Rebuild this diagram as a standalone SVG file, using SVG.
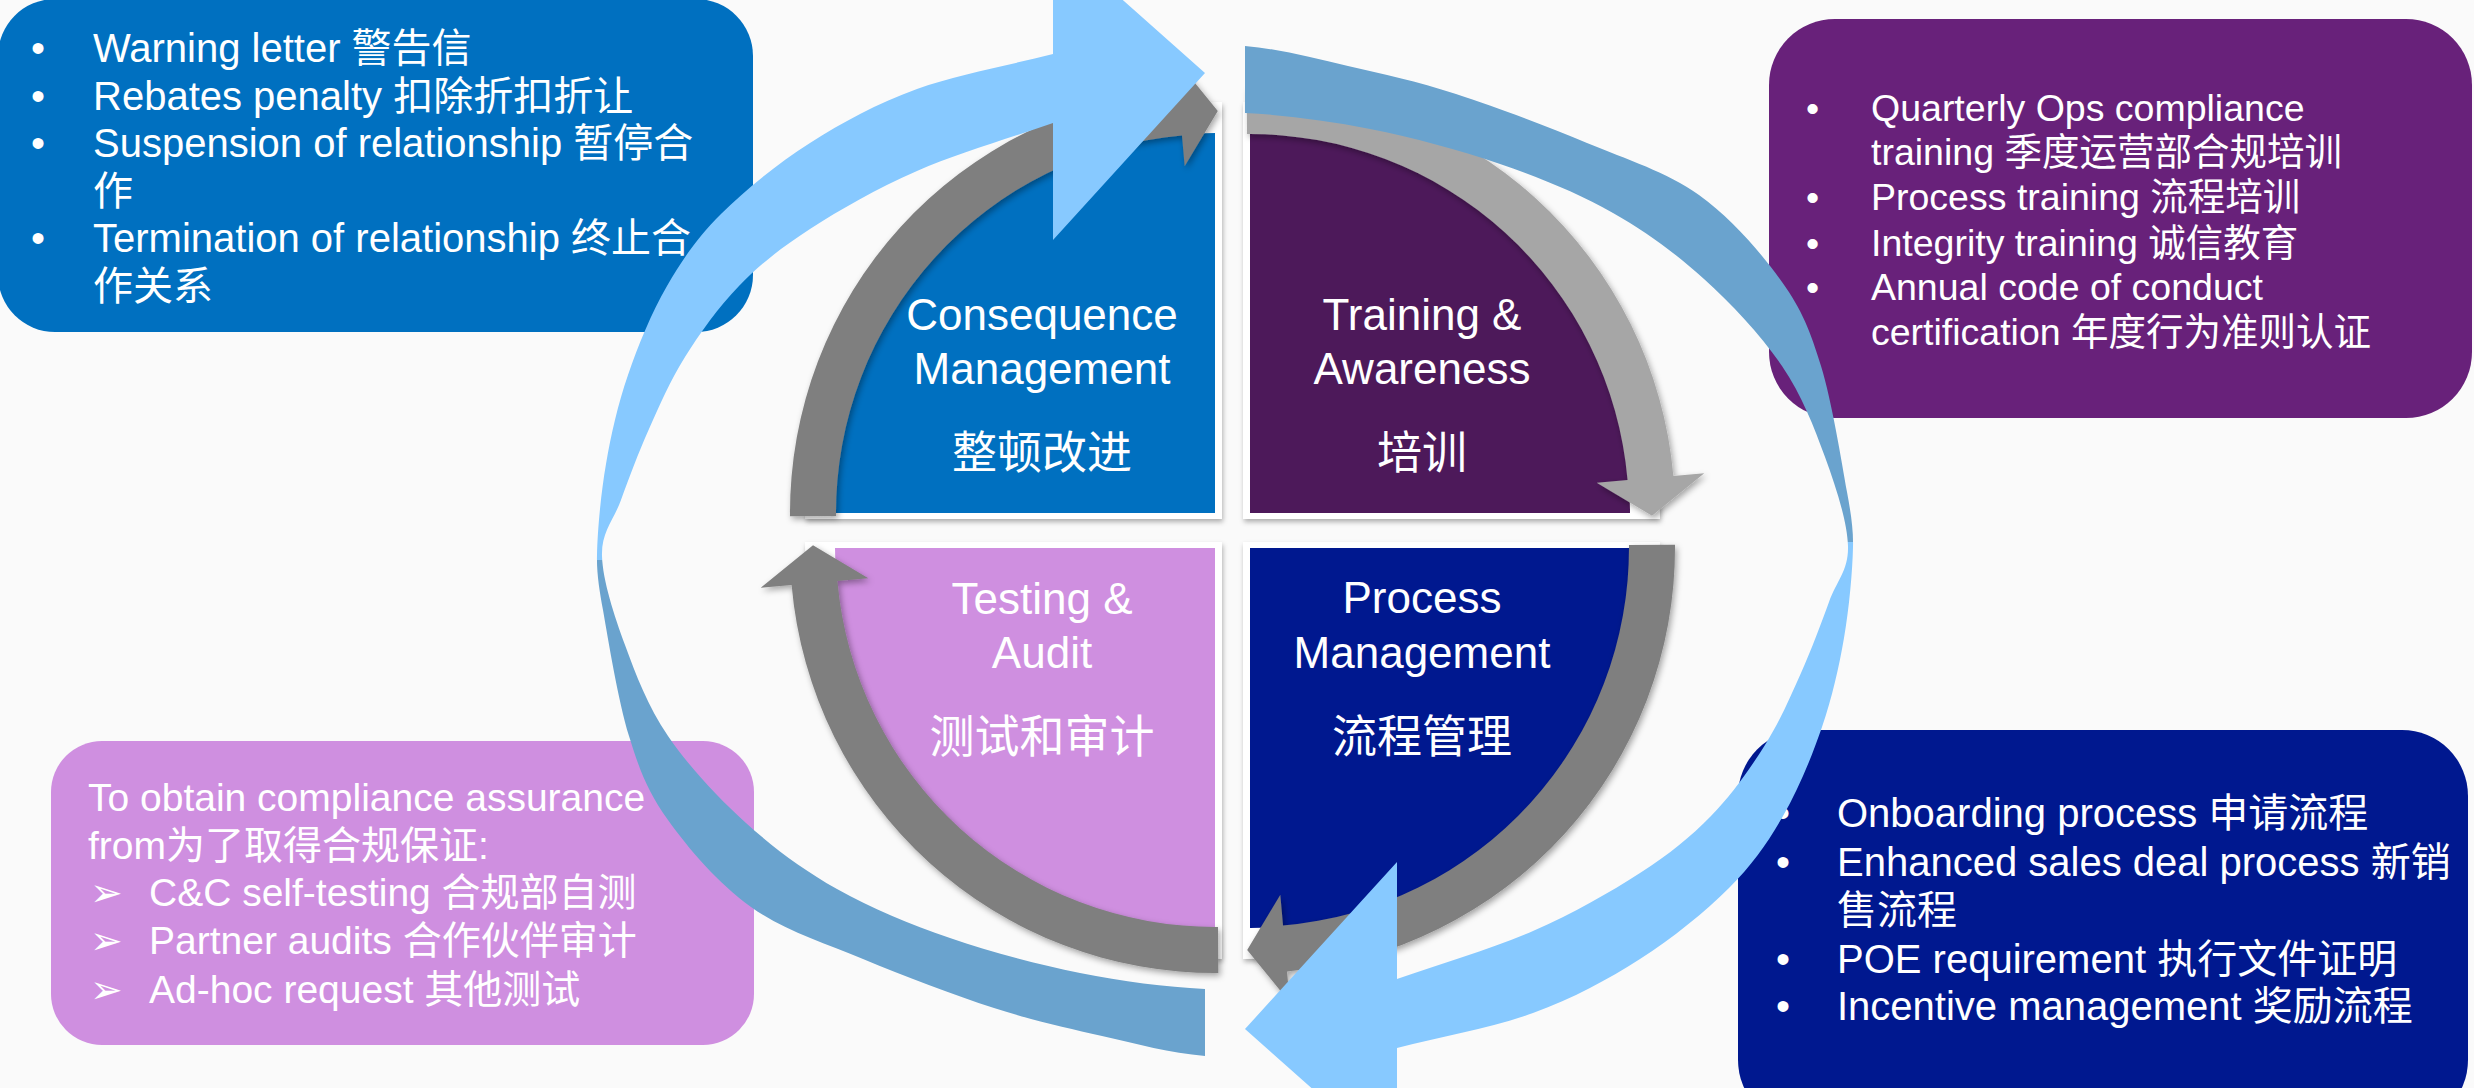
<svg xmlns="http://www.w3.org/2000/svg" width="2474" height="1088" viewBox="0 0 2474 1088">
  <style>
    text { font-family: 'Liberation Sans', 'Noto Sans CJK SC', 'DejaVu Sans', sans-serif; fill: #FFFFFF; }
    .qt { font-size: 44px; text-anchor: middle; }
    .qc { font-size: 45px; text-anchor: middle; }
    .b40 { font-size: 40px; }
    .b37 { font-size: 37.5px; }
    .b39 { font-size: 39px; }
    .frame { fill: #FFFFFF; filter: url(#softShadow); }
    .ring { fill: #7F7F7F; filter: url(#arcShadow); }
    .ringLight { fill: #A6A6A6; filter: url(#arcShadow); }
    .band { fill: url(#bandFace); }
  </style>
  <defs>
    <filter id="softShadow" x="-10%" y="-10%" width="125%" height="125%">
      <feDropShadow dx="1" dy="3" stdDeviation="2.5" flood-color="#000000" flood-opacity="0.3"/>
    </filter>
    <filter id="arcShadow" x="-10%" y="-10%" width="125%" height="125%">
      <feDropShadow dx="2" dy="3" stdDeviation="3" flood-color="#000000" flood-opacity="0.35"/>
    </filter>
    <!-- ribbon: light front face above the twist, steel back face below -->
    <linearGradient id="bandFace" gradientUnits="userSpaceOnUse" x1="0" y1="550" x2="0" y2="570">
      <stop offset="0" stop-color="#87C9FF"/>
      <stop offset="0.5" stop-color="#87C9FF"/>
      <stop offset="0.5" stop-color="#6AA3CE"/>
      <stop offset="1" stop-color="#6AA3CE"/>
    </linearGradient>
    <path id="ribbon" d="M 1053,54 L 1053,-62 L 1205,73 L 1053,240 L 1053,123
      C 1007.7,139 957.5,153.3 917,171
      C 876.5,188.7 839.7,209.8 810,229
      C 780.3,248.2 759.8,264.7 739,286
      C 718.2,307.3 700,333.2 685,357
      C 670,380.8 659.7,405.2 649,429
      C 638.3,452.8 628.8,478.8 621,500
      C 613.2,521.2 601.3,531.8 602,556
      C 602.7,580.2 614,615 625,645
      C 636,675 647.8,706.3 668,736
      C 688.2,765.7 717.8,797.5 746,823
      C 774.2,848.5 803,869.8 837,889
      C 871,908.2 909.5,924 950,938
      C 990.5,952 1037.5,964.5 1080,973
      C 1122.5,981.5 1165,987 1205,989
      L 1205,1056
      C 1170,1053 1137.2,1044 1102,1036
      C 1066.8,1028 1033.8,1020.8 994,1008
      C 954.2,995.2 903.5,975.8 863,959
      C 822.5,942.2 783.5,930.2 751,907
      C 718.5,883.8 688.3,848.5 668,820
      C 647.7,791.5 639.8,771 629,736
      C 618.2,701 608.3,640.2 603,610
      C 599.5,591 596.5,573 597,555
      C 597.5,530.7 600.8,494 606,464
      C 611.2,434 617.8,404.7 628,375
      C 638.2,345.3 651.5,312.8 667,286
      C 682.5,259.2 697.2,237.8 721,214
      C 744.8,190.2 777.3,163.8 810,143
      C 842.7,122.2 876.5,103.8 917,89
      C 957.5,74.2 1007.7,65.7 1053,54 Z"/>
  </defs>

  <rect x="0" y="0" width="2474" height="1088" fill="#FAFAFA"/>

  <!-- detail boxes -->
  <g id="box-consequence">
    <rect x="-2" y="-1" width="755" height="333" rx="57" fill="#0070C0"/>
    <text class="b40" x="31" y="62">•</text>
    <text class="b40" x="93" y="62">Warning letter 警告信</text>
    <text class="b40" x="31" y="110">•</text>
    <text class="b40" x="93" y="110">Rebates penalty 扣除折扣折让</text>
    <text class="b40" x="31" y="157">•</text>
    <text class="b40" x="93" y="157">Suspension of relationship 暂停合</text>
    <text class="b40" x="93" y="205">作</text>
    <text class="b40" x="31" y="252">•</text>
    <text class="b40" x="93" y="252">Termination of relationship 终止合</text>
    <text class="b40" x="93" y="300">作关系</text>
  </g>

  <g id="box-training">
    <rect x="1769" y="19" width="703" height="399" rx="66" fill="#68217A"/>
    <text class="b37" x="1806" y="121">•</text>
    <text class="b37" x="1871" y="121">Quarterly Ops compliance</text>
    <text class="b37" x="1871" y="165">training 季度运营部合规培训</text>
    <text class="b37" x="1806" y="210">•</text>
    <text class="b37" x="1871" y="210">Process training 流程培训</text>
    <text class="b37" x="1806" y="256">•</text>
    <text class="b37" x="1871" y="256">Integrity training 诚信教育</text>
    <text class="b37" x="1806" y="300">•</text>
    <text class="b37" x="1871" y="300">Annual code of conduct</text>
    <text class="b37" x="1871" y="345">certification 年度行为准则认证</text>
  </g>

  <g id="box-testing">
    <rect x="51" y="741" width="703" height="304" rx="51" fill="#CF8FE0"/>
    <text class="b39" x="88" y="811">To obtain compliance assurance</text>
    <text class="b39" x="88" y="859">from为了取得合规保证:</text>
    <text class="b39" x="90" y="906">➢</text>
    <text class="b39" x="149" y="906">C&amp;C self-testing 合规部自测</text>
    <text class="b39" x="90" y="954">➢</text>
    <text class="b39" x="149" y="954">Partner audits 合作伙伴审计</text>
    <text class="b39" x="90" y="1003">➢</text>
    <text class="b39" x="149" y="1003">Ad-hoc request 其他测试</text>
  </g>

  <g id="box-process">
    <rect x="1738" y="730" width="730" height="396" rx="66" fill="#00188F"/>
    <text class="b40" x="1776" y="827">•</text>
    <text class="b40" x="1837" y="827">Onboarding process 申请流程</text>
    <text class="b40" x="1776" y="876">•</text>
    <text class="b40" x="1837" y="876">Enhanced sales deal process 新销</text>
    <text class="b40" x="1837" y="924">售流程</text>
    <text class="b40" x="1776" y="973">•</text>
    <text class="b40" x="1837" y="973">POE requirement 执行文件证明</text>
    <text class="b40" x="1776" y="1020">•</text>
    <text class="b40" x="1837" y="1020">Incentive management 奖励流程</text>
  </g>

  <!-- cycle quadrants -->
  <g id="quad-consequence">
    <path class="frame" d="M 1222,519 L 805,519 A 417 417 0 0 1 1222,102 Z"/>
    <path d="M 1215,513 L 835,513 A 380 380 0 0 1 1215,133 Z" fill="#0070C0"/>
    <text class="qt" x="1042" y="330">Consequence</text>
    <text class="qt" x="1042" y="384">Management</text>
    <text class="qc" x="1042" y="469">整顿改进</text>
  </g>

  <g id="quad-training">
    <path class="frame" d="M 1243,519 L 1243,102 A 417 417 0 0 1 1660,519 Z"/>
    <path d="M 1250,513 L 1250,133 A 380 380 0 0 1 1630,513 Z" fill="#4D195A"/>
    <text class="qt" x="1422" y="330">Training &amp;</text>
    <text class="qt" x="1422" y="384">Awareness</text>
    <text class="qc" x="1422" y="469">培训</text>
  </g>

  <g id="quad-process">
    <path class="frame" d="M 1243,542 L 1660,542 A 417 417 0 0 1 1243,959 Z"/>
    <path d="M 1250,548 L 1630,548 A 380 380 0 0 1 1250,928 Z" fill="#00188F"/>
    <text class="qt" x="1422" y="613">Process</text>
    <text class="qt" x="1422" y="668">Management</text>
    <text class="qc" x="1422" y="753">流程管理</text>
  </g>

  <g id="quad-testing">
    <path class="frame" d="M 1222,542 L 1222,959 A 417 417 0 0 1 805,542 Z"/>
    <path d="M 1215,548 L 1215,928 A 380 380 0 0 1 835,548 Z" fill="#CF8FE0"/>
    <text class="qt" x="1042" y="614">Testing &amp;</text>
    <text class="qt" x="1042" y="668">Audit</text>
    <text class="qc" x="1042" y="753">测试和审计</text>
  </g>

  <g id="connectors">
    <!-- inner cycle arrows, one per quadrant -->
    <path class="ring" d="M 790,516.3 A 425 425 0 0 1 1177.96,89.62 L 1175.26,58.74 L 1217.8,111 L 1184.67,166.33 L 1181.97,135.44 A 379 379 0 0 0 836,516 Z"/>
    <path class="ringLight" d="M 1246.66,88.01 A 425 425 0 0 1 1673.38,475.96 L 1704.26,473.26 L 1651.99,515.81 L 1596.67,482.67 L 1627.56,479.97 A 379 379 0 0 0 1247.02,134.01 Z"/>
    <path class="ring" d="M 1674.99,544.66 A 425 425 0 0 1 1287.04,971.38 L 1289.74,1002.26 L 1247.19,949.99 L 1280.33,894.67 L 1283.03,925.56 A 379 379 0 0 0 1628.99,545.02 Z"/>
    <path class="ring" d="M 1218.34,972.99 A 425 425 0 0 1 791.62,585.04 L 760.74,587.74 L 813.01,545.19 L 868.33,578.33 L 837.44,581.03 A 379 379 0 0 0 1217.98,926.99 Z"/>

    <!-- outer twisted ribbon arrows -->
    <use href="#ribbon" class="band"/>
    <use href="#ribbon" class="band" transform="rotate(180 1225 551)"/>
  </g>
</svg>
